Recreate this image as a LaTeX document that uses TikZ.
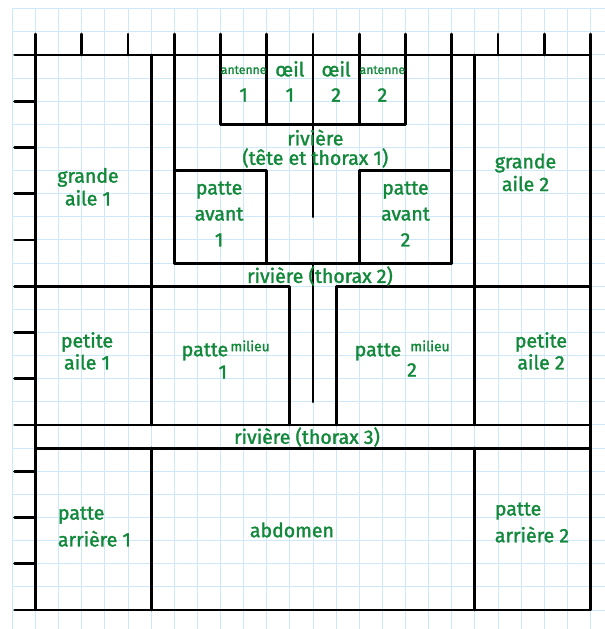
\documentclass[tikz,border=0pt]{standalone}
\usepackage{fontspec}
\newfontfamily\handfont{Fira Sans}[FakeBold=1.6]
\definecolor{gridblue}{RGB}{206,232,250}
\definecolor{inkgreen}{RGB}{18,136,58}
\begin{document}
\begin{tikzpicture}[x=0.5cm,y=0.5cm,
  wall/.style={line width=1.8pt, line cap=round, line join=round, black},
  gridline/.style={gridblue, line width=0.6pt},
  lbl/.style={text=inkgreen, font=\handfont\fontsize{12}{#1}\selectfont, align=center, inner sep=0pt},
  lbl/.default=14,
  lblleft/.style={lbl=#1, align=left},
  tinylbl/.style={text=inkgreen, font=\handfont\fontsize{7.5}{9}\selectfont, inner sep=0pt},
  smalllbl/.style={text=inkgreen, font=\handfont\fontsize{8.5}{10}\selectfont, inner sep=0pt}
]
\useasboundingbox (-1.535,-0.822) rectangle (24.627,26.378);
\fill[white] (-1.535,-0.822) rectangle (24.627,26.378);
% squared paper
\foreach \i in {-1,...,24} \draw[gridline] (\i,-0.822) -- (\i,26);
\foreach \j in {0,...,26} \draw[gridline] (-1,\j) -- (24.627,\j);

% frame and ticks
\draw[wall] (0,0) rectangle (24,24);
\foreach \i in {0,2,...,24} \draw[wall] (\i,24) -- (\i,24.9);
\foreach \j in {0,2,...,24} \draw[wall] (-0.9,\j) -- (0,\j);

% long verticals
\draw[wall] (5,24) -- (5,8);
\draw[wall] (6,24) -- (6,15);
\draw[wall] (18,24) -- (18,15);
\draw[wall] (19,24) -- (19,8);
% antenna / eye box
\draw[wall] (8,24) -- (8,21) -- (16,21) -- (16,24);
\foreach \i in {10,12,14} \draw[wall] (\i,24) -- (\i,21);
\draw[wall] (12,21) -- (12,17);
% front legs
\draw[wall] (6,19) -- (10,19) -- (10,15);
\draw[wall] (18,19) -- (14,19) -- (14,15);
\draw[wall] (6,15) -- (18,15);
\draw[wall] (12,15) -- (12,9);
% middle legs and small wings
\draw[wall] (0,14) -- (11,14) -- (11,8);
\draw[wall] (24,14) -- (13,14) -- (13,8);
% thorax 3 band
\draw[wall] (0,8) -- (24,8);
\draw[wall] (0,7) -- (24,7);
% hind legs
\draw[wall] (5,7) -- (5,0);
\draw[wall] (19,7) -- (19,0);

% labels
\node[tinylbl] (ant1) at (9,23.35) {antenne};
\node[lbl] (ant1n) at (9,22.27) {1};
\node[lbl] (oeil1) at (11,23.4) {œil};
\node[lbl] (oeil1n) at (11,22.27) {1};
\node[lbl] (oeil2) at (13,23.4) {œil};
\node[lbl] (oeil2n) at (13,22.27) {2};
\node[tinylbl] (ant2) at (15,23.35) {antenne};
\node[lbl] (ant2n) at (15,22.27) {2};

\node[lbl=12] (riv1) at (12.1,19.95) {rivière\\(tête et thorax 1)};
\node[lbl=16] (pav1) at (7.94,17.12) {patte\\avant\\1};
\node[lbl=16] (pav2) at (16.0,17.12) {patte\\avant\\2};
\node[lbl=14] (ga1) at (2.27,18.3) {grande\\aile 1};
\node[lbl=14] (ga2) at (21.19,18.92) {grande\\aile 2};
\node[lbl] (riv2) at (12.3,14.44) {rivière (thorax 2)};

\node[lbl=13.5] (pa1) at (2.23,11.2) {petite\\aile 1};
\node[lbl=13.5] (pa2) at (21.86,11.2) {petite\\aile 2};

\node[lbl] (pm1) at (7.33,11.16) {patte};
\node[smalllbl] (pm1m) at (9.28,11.42) {milieu};
\node[lbl] (pm1n) at (8.1,10.29) {1};
\node[lbl] (pm2) at (14.81,11.16) {patte};
\node[smalllbl] (pm2m) at (17.06,11.42) {milieu};
\node[lbl] (pm2n) at (16.28,10.38) {2};

\node[lbl] (riv3) at (11.74,7.48) {rivière (thorax 3)};

\node[lblleft=16.5] (par1) at (2.55,3.6) {patte\\arrière 1};
\node[lbl] (abd) at (11.09,3.46) {abdomen};
\node[lblleft=16.5] (par2) at (21.47,3.78) {patte\\arrière 2};
\end{tikzpicture}
\end{document}
